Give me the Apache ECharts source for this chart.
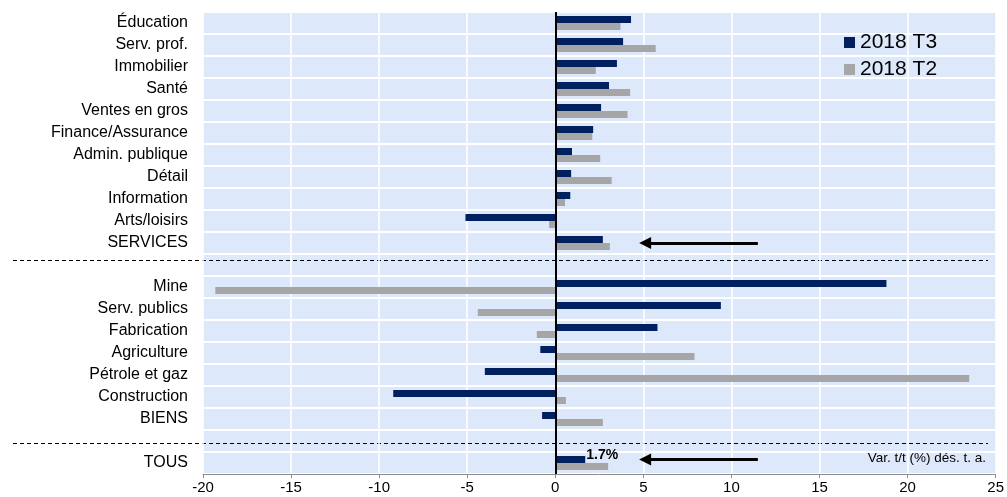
<!DOCTYPE html>
<html>
<head>
<meta charset="utf-8">
<script src="https://cdn.jsdelivr.net/npm/echarts@6/dist/echarts.min.js"></script>
<style>
  html, body { margin: 0; padding: 0; background: #fff; }
  #chart { width: 1007px; height: 497px; }
</style>
</head>
<body>
<div id="chart"></div>
<script>
// categories top to bottom (blank rows are the group gaps)
var categories = ['Éducation', 'Serv. prof.', 'Immobilier', 'Santé', 'Ventes en gros',
    'Finance/Assurance', 'Admin. publique', 'Détail', 'Information', 'Arts/loisirs', 'SERVICES',
    ' ',
    'Mine', 'Serv. publics', 'Fabrication', 'Agriculture', 'Pétrole et gaz', 'Construction', 'BIENS',
    '  ',
    'TOUS'];
var t3Values = [4.3, 3.85, 3.5, 3.05, 2.6, 2.15, 0.95, 0.9, 0.85, -5.1, 2.7,
    null,
    18.8, 9.4, 5.8, -0.85, -4.0, -9.2, -0.75,
    null,
    1.7];
var t2Values = [3.7, 5.7, 2.3, 4.25, 4.1, 2.1, 2.55, 3.2, 0.55, -0.35, 3.1,
    null,
    -19.3, -4.4, -1.05, 7.9, 23.5, 0.6, 2.7,
    null,
    3.0];
var xTicks = { min: -20, max: 25, step: 5 };
var seriesNames = ['2018 T3', '2018 T2'];
// arrows: [from x, to x]
var arrowX = [11.5, 5.1];

var FONT = 'Liberation Sans, Arial, sans-serif';

var chart = echarts.init(document.getElementById('chart'));

// label only on TOUS for T3
var t3Data = t3Values.map(function (v, i) {
    if (categories[i] === 'TOUS') {
        return {
            value: v,
            label: {
                show: true, position: 'right', distance: 1, offset: [0, -4],
                formatter: '1.7%', fontWeight: 'bold', fontSize: 14,
                color: '#000', fontFamily: FONT
            }
        };
    }
    return v;
});

function arrowMark() {
    return {
        silent: true,
        symbol: ['none', 'triangle'],
        symbolSize: 12,
        label: { show: false },
        lineStyle: { color: '#000', width: 3, type: 'solid', opacity: 1 },
        data: []
    };
}

var t3Arrow = arrowMark();
t3Arrow.data = [[{ coord: [arrowX[0], 'TOUS'] }, { coord: [arrowX[1], 'TOUS'] }]];
var midArrow = arrowMark();
midArrow.data = [[{ coord: [arrowX[0], 'SERVICES'] }, { coord: [arrowX[1], 'SERVICES'] }]];

var option = {
    animation: false,
    textStyle: { fontFamily: FONT },
    grid: {
        left: 203, right: 9, top: 12, bottom: 23,
        show: true, backgroundColor: '#dde9fb', borderWidth: 0
    },
    legend: {
        orient: 'vertical',
        left: 844, top: 32,
        padding: 0,
        itemWidth: 11, itemHeight: 11, itemGap: 6,
        icon: 'rect',
        textStyle: { fontSize: 21, color: '#000', fontFamily: FONT },
        data: seriesNames
    },
    xAxis: {
        type: 'value',
        min: xTicks.min, max: xTicks.max, interval: xTicks.step,
        axisLine: { show: true, onZero: false, lineStyle: { color: '#8c8c8c', width: 1 } },
        axisTick: { show: true, length: 4, lineStyle: { color: '#8c8c8c' } },
        axisLabel: { fontSize: 15, color: '#000', margin: 6, fontFamily: FONT },
        splitLine: { show: true, lineStyle: { color: '#ffffff', width: 1.5 } }
    },
    yAxis: {
        type: 'category',
        inverse: true,
        data: categories,
        axisLine: { show: false },
        axisTick: { show: false },
        axisLabel: { interval: 0, fontSize: 16, color: '#000', margin: 15, fontFamily: FONT },
        splitLine: { show: true, interval: 0, lineStyle: { color: '#ffffff', width: 2 } }
    },
    series: [
        {
            name: seriesNames[0],
            type: 'bar',
            data: t3Data,
            barWidth: 7,
            barGap: '0%',
            itemStyle: { color: '#002060' },
            markLine: t3Arrow
        },
        {
            name: seriesNames[1],
            type: 'bar',
            data: t2Values,
            barWidth: 7,
            barGap: '0%',
            itemStyle: { color: '#a6a6a6' },
            markLine: {
                silent: true,
                symbol: 'none',
                label: { show: false },
                lineStyle: { color: '#000', width: 2, type: 'solid' },
                data: [{ xAxis: 0 }]
            }
        },
        {
            // carrier for the SERVICES arrow, centred on the category band
            name: 'arrows',
            type: 'scatter',
            data: [],
            markLine: midArrow
        }
    ],
    graphic: [
        {
            type: 'line',
            shape: { x1: 13, y1: 260.5, x2: 988, y2: 260.5 },
            style: { stroke: '#000', lineWidth: 1, lineDash: [4, 3] }
        },
        {
            type: 'line',
            shape: { x1: 13, y1: 443.5, x2: 988, y2: 443.5 },
            style: { stroke: '#000', lineWidth: 1, lineDash: [4, 3] }
        },
        {
            type: 'text',
            right: 21, top: 451,
            style: { text: 'Var. t/t (%) dés. t. a.', fill: '#000', font: '13.5px ' + FONT }
        }
    ]
};

chart.setOption(option);
</script>
</body>
</html>
